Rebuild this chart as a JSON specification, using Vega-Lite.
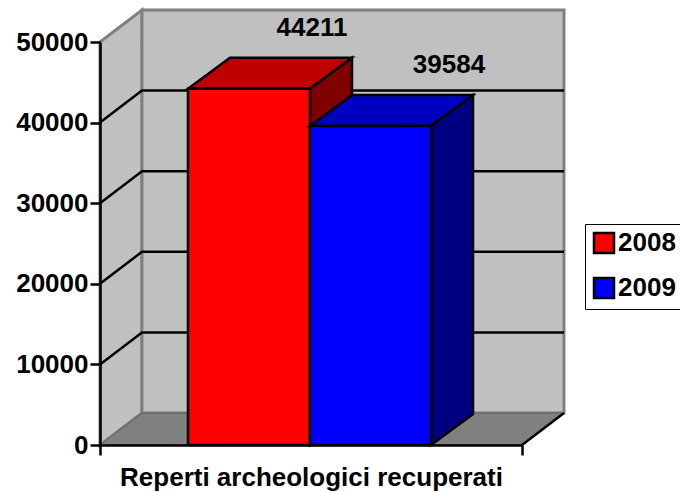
{
"$schema":"https://vega.github.io/schema/vega-lite/v6.json",
"width":422,"height":403,
"autosize":{"type":"none"},
"padding":{"left":100,"top":42,"right":158,"bottom":46},
"background":"white",
"view":{"stroke":null},
"config":{"font":"Liberation Sans"},
"datasets":{
"walls":[
{"part":"left","x":0,"y":50000,"y2":0},
{"part":"left","x":0.0995,"y":53970,"y2":3970},
{"part":"back","x":0.0995,"y":53970,"y2":3970},
{"part":"back","x":1.0995,"y":53970,"y2":3970}
],
"floor":[
{"x":0,"y":0,"y2":0},
{"x":0.0995,"y":3970,"y2":0},
{"x":1,"y":3970,"y2":0},
{"x":1.0995,"y":3970,"y2":3970}
],
"grid":[
{"level":10000,"x":0,"y":10000},{"level":10000,"x":0.0995,"y":13970},{"level":10000,"x":1.0995,"y":13970},
{"level":20000,"x":0,"y":20000},{"level":20000,"x":0.0995,"y":23970},{"level":20000,"x":1.0995,"y":23970},
{"level":30000,"x":0,"y":30000},{"level":30000,"x":0.0995,"y":33970},{"level":30000,"x":1.0995,"y":33970},
{"level":40000,"x":0,"y":40000},{"level":40000,"x":0.0995,"y":43970},{"level":40000,"x":1.0995,"y":43970}
],
"edge":[{"x":1,"y":0},{"x":1.0995,"y":3970}],
"faces":[
{"series":"2008","face":"2008 top","x":0.2085,"y":44211,"y2":44211},
{"series":"2008","face":"2008 top","x":0.308,"y":48057,"y2":44211},
{"series":"2008","face":"2008 top","x":0.4976,"y":48057,"y2":44211},
{"series":"2008","face":"2008 top","x":0.5971,"y":48057,"y2":48057},
{"series":"2008","face":"2008 side","x":0.4976,"y":44211,"y2":0},
{"series":"2008","face":"2008 side","x":0.5971,"y":48057,"y2":3846},
{"series":"2009","face":"2009 top","x":0.4976,"y":39584,"y2":39584},
{"series":"2009","face":"2009 top","x":0.5971,"y":43430,"y2":39584},
{"series":"2009","face":"2009 top","x":0.7844,"y":43430,"y2":39584},
{"series":"2009","face":"2009 top","x":0.8839,"y":43430,"y2":43430},
{"series":"2009","face":"2009 side","x":0.7844,"y":39584,"y2":0},
{"series":"2009","face":"2009 side","x":0.8839,"y":43430,"y2":3846}
],
"bars":[
{"series":"2008","x":0.2085,"x2":0.4976,"y":44211,"y2":0,"labelX":0.5024},
{"series":"2009","x":0.4976,"x2":0.7844,"y":39584,"y2":0,"labelX":0.827}
]
},
"encoding":{
"x":{"field":"x","type":"quantitative","scale":{"domain":[0,1],"nice":false,"zero":false},
"axis":{"values":[0,1],"labels":false,"grid":false,"ticks":true,"tickSize":10,"tickWidth":2.5,"tickColor":"black","domainColor":"black","domainWidth":2.5,"zindex":1,"title":"Reperti archeologici recuperati","titleFont":"Liberation Sans","titleFontSize":26,"titleFontWeight":"bold","titleColor":"black","titlePadding":8}},
"y":{"field":"y","type":"quantitative","stack":null,"scale":{"domain":[0,50000],"nice":false},
"axis":{"values":[0,10000,20000,30000,40000,50000],"grid":false,"format":"d","tickSize":10,"tickWidth":2.5,"tickColor":"black","domainColor":"black","domainWidth":2.5,"zindex":1,"title":null,"labelFont":"Liberation Sans","labelFontSize":26,"labelFontWeight":"bold","labelColor":"black","labelPadding":2}}
},
"layer":[
{"data":{"name":"walls"},"mark":{"type":"area","orient":"vertical","fill":"#c0c0c0","stroke":"#808080","strokeWidth":3},"encoding":{"y2":{"field":"y2"},"detail":{"field":"part"}}},
{"data":{"name":"floor"},"mark":{"type":"area","orient":"vertical","fill":"#808080","stroke":"#606060","strokeWidth":1},"encoding":{"y2":{"field":"y2"}}},
{"data":{"name":"grid"},"mark":{"type":"line","color":"black","strokeWidth":2.5},"encoding":{"detail":{"field":"level"}}},
{"data":{"name":"edge"},"mark":{"type":"line","color":"black","strokeWidth":2.5},"encoding":{}},
{"data":{"name":"faces"},"transform":[{"filter":"datum.series==='2008'"}],"mark":{"type":"area","orient":"vertical","stroke":"black","strokeWidth":2.5},
"encoding":{"y2":{"field":"y2"},"fill":{"field":"face","type":"nominal","legend":null,"scale":{"domain":["2008 top","2008 side","2009 top","2009 side"],"range":["#c00000","#800000","#0000c0","#000080"]}}}},
{"data":{"name":"bars"},"transform":[{"filter":"datum.series==='2008'"}],"mark":{"type":"rect","stroke":"black","strokeWidth":2.5},
"encoding":{"x2":{"field":"x2"},"y2":{"field":"y2"},"color":{"field":"series","type":"nominal","scale":{"domain":["2008","2009"],"range":["#ff0000","#0000ff"]},
"legend":{"orient":"none","legendX":485,"legendY":182,"title":null,"fillColor":"white","strokeColor":"black","padding":6,"symbolType":"square","symbolSize":400,"symbolStrokeColor":"black","symbolStrokeWidth":2.5,"symbolOpacity":1,"labelFont":"Liberation Sans","labelFontSize":26,"labelFontWeight":"bold","labelColor":"black","labelOffset":1,"rowPadding":15,"labelLimit":200}}}},
{"data":{"name":"faces"},"transform":[{"filter":"datum.series==='2009'"}],"mark":{"type":"area","orient":"vertical","stroke":"black","strokeWidth":2.5},
"encoding":{"y2":{"field":"y2"},"fill":{"field":"face","type":"nominal","legend":null,"scale":{"domain":["2008 top","2008 side","2009 top","2009 side"],"range":["#c00000","#800000","#0000c0","#000080"]}}}},
{"data":{"name":"bars"},"transform":[{"filter":"datum.series==='2009'"}],"mark":{"type":"rect","stroke":"black","strokeWidth":2.5},
"encoding":{"x2":{"field":"x2"},"y2":{"field":"y2"},"color":{"field":"series","type":"nominal","scale":{"domain":["2008","2009"],"range":["#ff0000","#0000ff"]}}}},
{"data":{"name":"bars"},"mark":{"type":"text","font":"Liberation Sans","fontSize":26,"fontWeight":"bold","color":"black","baseline":"middle","dy":-61},
"encoding":{"x":{"field":"labelX","type":"quantitative"},"text":{"field":"y","type":"quantitative","format":"d"}}}
]
}
